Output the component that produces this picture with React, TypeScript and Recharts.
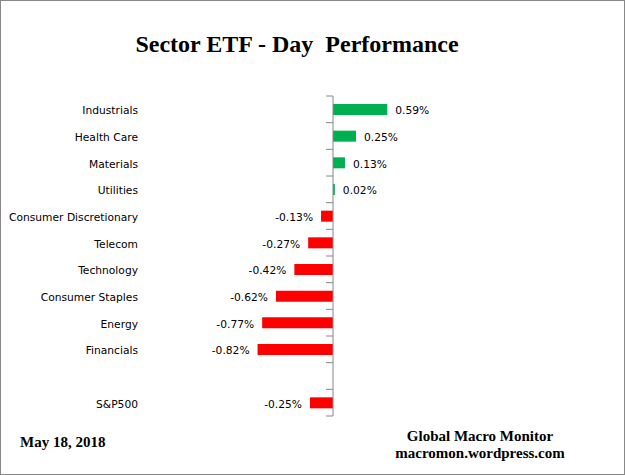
import React from "react";
import { BarChart, Bar, XAxis, YAxis, Cell, LabelList, ReferenceLine } from "recharts";

const sectors = [
  "Industrials",
  "Health Care",
  "Materials",
  "Utilities",
  "Consumer Discretionary",
  "Telecom",
  "Technology",
  "Consumer Staples",
  "Energy",
  "Financials",
  "",
  "S&P500",
];

const changes: (number | null)[] = [0.59, 0.25, 0.13, 0.02, -0.13, -0.27, -0.42, -0.62, -0.77, -0.82, null, -0.25];

const data = sectors.map((name, i) => ({ name, value: changes[i] }));

const labelFont = "'DejaVu Sans', Verdana, sans-serif";
const serif = "'Liberation Serif', 'Times New Roman', serif";

function AxisWithTicks(props: any) {
  const { x1, y1, y2 } = props;
  const top = Math.min(y1, y2);
  const bottom = Math.max(y1, y2);
  const n = sectors.length;
  const step = (bottom - top) / n;
  const marks = [];
  for (let i = 0; i <= n; i++) {
    const y = top + i * step;
    marks.push(<line key={i} x1={x1 - 7} x2={x1} y1={y} y2={y} stroke="#868686" strokeWidth={1} />);
  }
  return (
    <g>
      <line x1={x1} x2={x1} y1={top} y2={bottom} stroke="#868686" strokeWidth={1} />
      {marks}
    </g>
  );
}

function CategoryTick(props: any) {
  const { x, y, payload } = props;
  return (
    <text
      x={x}
      y={y + 1}
      dy="0.36em"
      textAnchor="end"
      fontFamily={labelFont}
      fontSize={10.7}
      fill="#000"
    >
      {payload.value}
    </text>
  );
}

function ValueLabel(props: any) {
  const { x, y, width, height, value } = props;
  if (value === null || value === undefined) return null;
  const left = Math.min(x, x + width);
  const right = Math.max(x, x + width);
  const cy = y + height / 2;
  const pos = value >= 0;
  return (
    <text
      x={pos ? right + 8 : left - 8}
      y={cy + 1}
      dy="0.36em"
      textAnchor={pos ? "start" : "end"}
      fontFamily={labelFont}
      fontSize={10.7}
      fill="#000"
    >
      {value.toFixed(2)}%
    </text>
  );
}

export default function App() {
  return (
    <div style={{ position: "absolute", left: 0, top: 0, width: 625, height: 475, background: "#fff" }}>
      <div
        style={{
          position: "absolute",
          left: 0,
          top: 0,
          width: 625,
          height: 475,
          boxSizing: "border-box",
          border: "1px solid #888",
          pointerEvents: "none",
          zIndex: 2,
        }}
      />
      <div
        style={{
          position: "absolute",
          left: 0,
          top: 31,
          width: 594,
          textAlign: "center",
          fontFamily: serif,
          fontWeight: "bold",
          fontSize: 24,
          whiteSpace: "pre",
          color: "#000",
        }}
      >
        Sector ETF - Day  Performance
      </div>
      <div style={{ position: "absolute", left: 0, top: 0 }}>
        <BarChart
          width={625}
          height={475}
          data={data}
          layout="vertical"
          margin={{ top: 96, right: 108, bottom: 59, left: 0 }}
        >
          <XAxis type="number" domain={[-2, 2]} hide />
          <YAxis
            type="category"
            dataKey="name"
            width={149}
            axisLine={false}
            tickLine={false}
            tickSize={0}
            tickMargin={11}
            interval={0}
            tick={<CategoryTick />}
          />
          <Bar dataKey="value" barSize={11} isAnimationActive={false}>
            {data.map((d, i) => (
              <Cell key={i} fill={d.value !== null && d.value >= 0 ? "#00B050" : "#FF0000"} />
            ))}
            <LabelList dataKey="value" content={<ValueLabel />} />
          </Bar>
          <ReferenceLine x={0} shape={(p: any) => <AxisWithTicks {...p} />} />
        </BarChart>
      </div>
      <div
        style={{
          position: "absolute",
          left: 20,
          top: 434,
          fontFamily: serif,
          fontWeight: "bold",
          fontSize: 15,
          color: "#000",
        }}
      >
        May 18, 2018
      </div>
      <div
        style={{
          position: "absolute",
          left: 380,
          width: 200,
          top: 428,
          textAlign: "center",
          fontFamily: serif,
          fontWeight: "bold",
          fontSize: 15,
          lineHeight: "17px",
          color: "#000",
        }}
      >
        Global Macro Monitor
        <br />
        macromon.wordpress.com
      </div>
    </div>
  );
}
